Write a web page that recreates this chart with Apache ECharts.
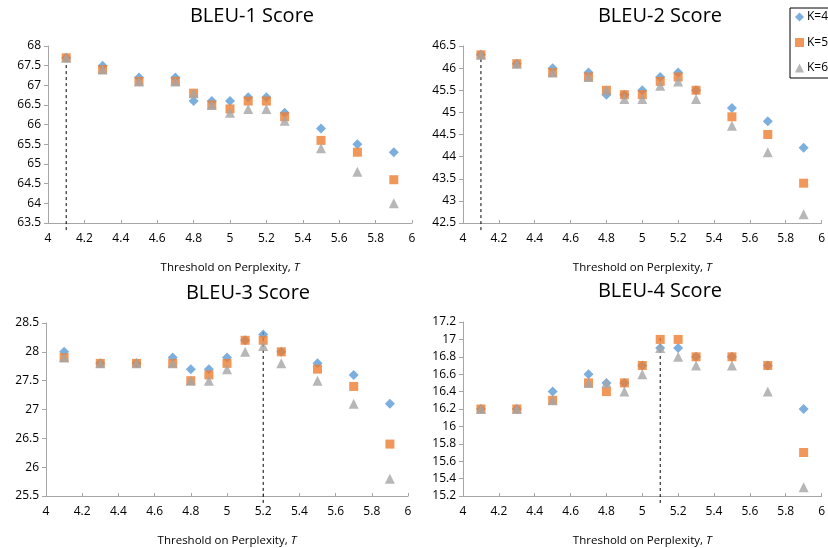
<!DOCTYPE html>
<html><head><meta charset="utf-8">
<script src="https://cdn.jsdelivr.net/npm/echarts@6/dist/echarts.min.js"></script>
<style>html,body{margin:0;padding:0;background:#fff}#c{width:828px;height:548px}</style>
</head><body><div id="c"></div>
<script>
const thresholds = [4.1, 4.3, 4.5, 4.7, 4.8, 4.9, 5.0, 5.1, 5.2, 5.3, 5.5, 5.7, 5.9];
const seriesNames = ['K=4', 'K=5', 'K=6'];
const titles = ['BLEU-1 Score', 'BLEU-2 Score', 'BLEU-3 Score', 'BLEU-4 Score'];

const bleu1K4 = [67.7, 67.5, 67.2, 67.2, 66.6, 66.6, 66.6, 66.7, 66.7, 66.3, 65.9, 65.5, 65.3];
const bleu1K5 = [67.7, 67.4, 67.1, 67.1, 66.8, 66.5, 66.4, 66.6, 66.6, 66.2, 65.6, 65.3, 64.6];
const bleu1K6 = [67.7, 67.4, 67.1, 67.1, 66.8, 66.5, 66.3, 66.4, 66.4, 66.1, 65.4, 64.8, 64.0];

const bleu2K4 = [46.3, 46.1, 46.0, 45.9, 45.4, 45.4, 45.5, 45.8, 45.9, 45.5, 45.1, 44.8, 44.2];
const bleu2K5 = [46.3, 46.1, 45.9, 45.8, 45.5, 45.4, 45.4, 45.7, 45.8, 45.5, 44.9, 44.5, 43.4];
const bleu2K6 = [46.3, 46.1, 45.9, 45.8, 45.5, 45.3, 45.3, 45.6, 45.7, 45.3, 44.7, 44.1, 42.7];

const bleu3K4 = [28.0, 27.8, 27.8, 27.9, 27.7, 27.7, 27.9, 28.2, 28.3, 28.0, 27.8, 27.6, 27.1];
const bleu3K5 = [27.9, 27.8, 27.8, 27.8, 27.5, 27.6, 27.8, 28.2, 28.2, 28.0, 27.7, 27.4, 26.4];
const bleu3K6 = [27.9, 27.8, 27.8, 27.8, 27.5, 27.5, 27.7, 28.0, 28.1, 27.8, 27.5, 27.1, 25.8];

const bleu4K4 = [16.2, 16.2, 16.4, 16.6, 16.5, 16.5, 16.7, 16.9, 16.9, 16.8, 16.8, 16.7, 16.2];
const bleu4K5 = [16.2, 16.2, 16.3, 16.5, 16.4, 16.5, 16.7, 17.0, 17.0, 16.8, 16.8, 16.7, 15.7];
const bleu4K6 = [16.2, 16.2, 16.3, 16.5, 16.5, 16.4, 16.6, 16.9, 16.8, 16.7, 16.7, 16.4, 15.3];

// y-axis ranges per panel
const yMin = [63.5, 42.5, 25.5, 15.2];
const yMax = [68, 46.5, 28.5, 17.2];
const yInterval = [0.5, 0.5, 0.5, 0.2];
// best threshold (dashed marker) per panel
const bestX = [4.1, 4.1, 5.2, 5.1];
const bestTop = [67.7, 46.4, 28.35, 17.02];

const panels = [
  [bleu1K4, bleu1K5, bleu1K6],
  [bleu2K4, bleu2K5, bleu2K6],
  [bleu3K4, bleu3K5, bleu3K6],
  [bleu4K4, bleu4K5, bleu4K6]
];

const colors = ['#5B9BD5', '#ED7D31', '#A5A5A5'];
const symbols = ['diamond', 'rect', 'triangle'];
const sizes = [10, 9, 10];

const grids = [
  {left: 48, top: 46, width: 364, height: 177},
  {left: 463, top: 46, width: 364, height: 177},
  {left: 46, top: 323, width: 362, height: 177},
  {left: 463, top: 322, width: 364, height: 177}
];
const titlePos = [[247, 1], [655, 1], [243, 278], [655, 276]];

const font = 'Open Sans, Liberation Sans, sans-serif';
const option = {
  animation: false,
  backgroundColor: '#fff',
  title: titles.map((t, i) => ({
    text: t, left: titlePos[i][0], top: titlePos[i][1], textAlign: 'center',
    textStyle: {fontFamily: font, fontSize: 20, fontWeight: 'normal', color: '#000'}
  })),
  legend: {
    orient: 'vertical', left: 790, top: 8,
    borderColor: '#000', borderWidth: 1, padding: [1, 30, 2, 5], itemGap: 9.5,
    itemWidth: 9, itemHeight: 9,
    textStyle: {fontFamily: font, fontSize: 12, color: '#000', lineHeight: 16, padding: [0, 0, 0, -2]},
    data: seriesNames.map((n, i) => ({name: n, icon: symbols[i]}))
  },
  grid: grids,
  xAxis: grids.map((g, i) => ({
    type: 'value', gridIndex: i, min: 4, max: 6, interval: 0.2,
    name: '{a|Threshold on Perplexity, }{b|T}', nameLocation: 'middle', nameGap: 39,
    nameTextStyle: {rich: {
      a: {fontFamily: font, fontSize: 11.5, color: '#000'},
      b: {fontFamily: font, fontSize: 11.5, color: '#000', fontStyle: 'italic'}
    }},
    axisLine: {lineStyle: {color: '#A6A6A6'}},
    axisTick: {show: true, inside: true, length: 3, lineStyle: {color: '#A6A6A6'}},
    splitLine: {show: false},
    axisLabel: {fontFamily: font, fontSize: 12, color: '#000', margin: 10}
  })),
  yAxis: grids.map((g, i) => ({
    type: 'value', gridIndex: i, min: yMin[i], max: yMax[i], interval: yInterval[i],
    axisLine: {show: true, lineStyle: {color: '#A6A6A6'}},
    axisTick: {show: true, length: 4, lineStyle: {color: '#A6A6A6'}},
    splitLine: {show: false},
    axisLabel: {fontFamily: font, fontSize: 12, color: '#000', margin: 7}
  })),
  series: []
};

panels.forEach((arrs, p) => {
  // dashed marker line for the best threshold
  const ext = (yMax[p] - yMin[p]) * 0.04;
  option.series.push({
    type: 'line', xAxisIndex: p, yAxisIndex: p, clip: false, silent: true,
    showSymbol: false, symbol: 'none', z: 1,
    lineStyle: {color: '#000', type: [3, 3], width: 1},
    data: [[bestX[p], yMin[p] - ext], [bestX[p], bestTop[p]]]
  });
  arrs.forEach((vals, k) => {
    option.series.push({
      name: seriesNames[k], type: 'scatter', xAxisIndex: p, yAxisIndex: p,
      symbol: symbols[k], symbolSize: sizes[k],
      itemStyle: {color: colors[k]},
      data: thresholds.map((t, j) => [t, vals[j]]),
      z: 3 + k
    });
  });
});

echarts.init(document.getElementById('c')).setOption(option);
</script></body></html>
